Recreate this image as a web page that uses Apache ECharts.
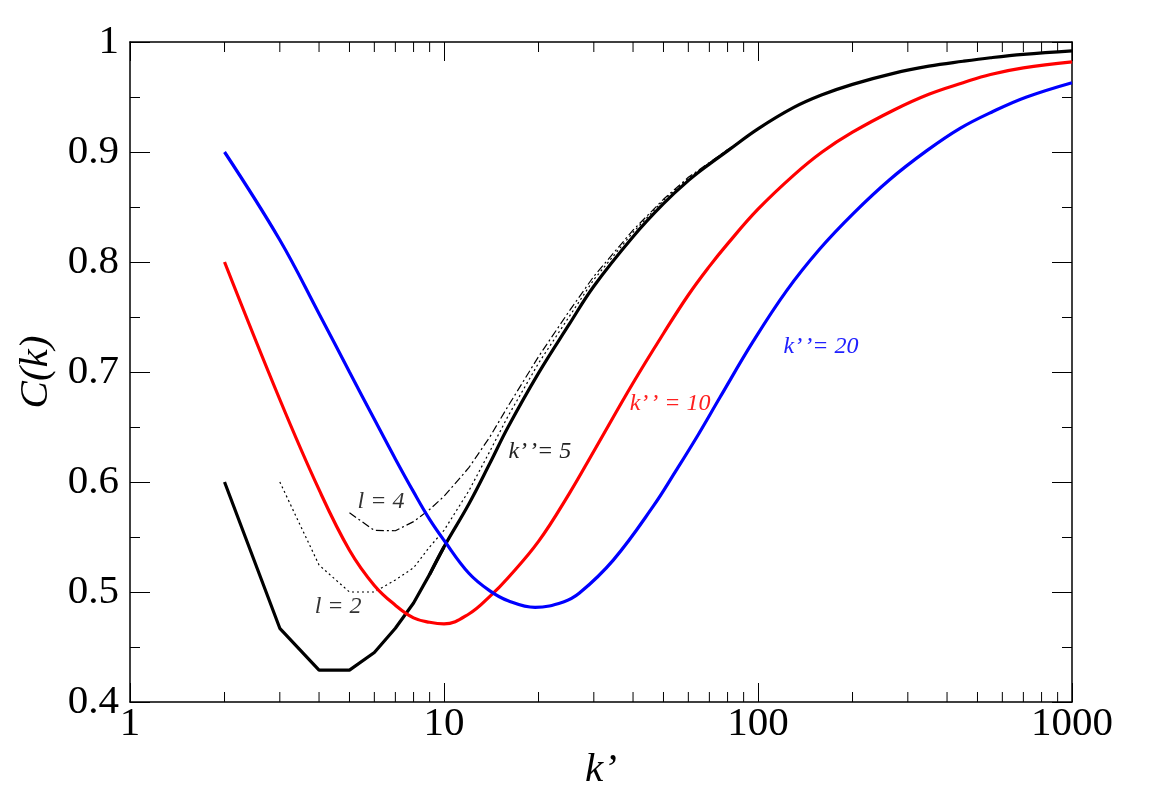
<!DOCTYPE html>
<html>

<head>
  <meta charset="UTF-8">
  <title>C(k) vs k'</title>
  <style>
  html, body {
    margin: 0;
    padding: 0;
    background: #fff;
  }

  #chart {
    width: 1155px;
    height: 809px;
  }
  </style>
  <script src="https://cdn.jsdelivr.net/npm/echarts@6/dist/echarts.min.js"></script>
</head>

<body>
  <div id="chart"></div>
  <script type="text/javascript">
  var kMain = [2, 3, 4, 5, 6, 7, 8, 9, 10, 12, 14, 16, 20, 25, 30, 40, 50, 60, 70, 80, 100, 130, 160, 200, 270, 350, 450, 550, 700, 1000];
  // k'' = 5
  var c5 = [0.600, 0.467, 0.429, 0.429, 0.445, 0.467, 0.490, 0.516, 0.541, 0.580, 0.617, 0.650, 0.699, 0.743, 0.778, 0.823, 0.853, 0.874, 0.889, 0.901, 0.921, 0.9405, 0.952, 0.9615, 0.9715, 0.978, 0.9825, 0.9857, 0.9888, 0.992];
  // k'' = 10
  var c10 = [0.800, 0.675, 0.593, 0.538, 0.506, 0.488, 0.4765, 0.4725, 0.471, 0.480, 0.496, 0.513, 0.546, 0.589, 0.628, 0.690, 0.735, 0.770, 0.796, 0.8165, 0.848, 0.879, 0.900, 0.918, 0.938, 0.9525, 0.963, 0.9705, 0.9765, 0.982];
  // k'' = 20
  var kBlue = [2, 3, 4, 5, 6, 7, 8, 9, 10, 12, 14, 16, 19.5, 24, 27, 34.6, 46.4, 55, 64.5, 75.7, 96.6, 123.4, 157.5, 201, 263, 344, 440, 562, 717, 1000];
  var c20 = [0.900, 0.820, 0.753, 0.700, 0.657, 0.621, 0.591, 0.566, 0.547, 0.517, 0.501, 0.492, 0.486, 0.491, 0.499, 0.529, 0.578, 0.611, 0.643, 0.677, 0.728, 0.774, 0.812, 0.844, 0.875, 0.901, 0.9215, 0.937, 0.950, 0.963];

  // l = 2 (dotted)
  var kL2 = [3, 4, 5, 6, 7, 8, 9, 10, 12, 14, 16, 20, 25, 30, 40, 50, 60, 80, 100];
  var cL2 = [0.600, 0.5245, 0.500, 0.500, 0.511, 0.522, 0.541, 0.556, 0.592, 0.628, 0.660, 0.708, 0.750, 0.784, 0.827, 0.856, 0.876, 0.902, 0.921];
  // l = 4 (dash-dot)
  var kL4 = [5, 6, 7, 8, 9, 10, 12, 14, 16, 20, 25, 30, 40, 50, 60, 80, 100];
  var cL4 = [0.572, 0.556, 0.5557, 0.564, 0.575, 0.587, 0.613, 0.641, 0.669, 0.714, 0.755, 0.787, 0.829, 0.857, 0.877, 0.902, 0.921];

  // log minor ticks on the k' axis
  var minorK = [2, 3, 4, 5, 6, 7, 8, 9, 20, 30, 40, 50, 60, 70, 80, 90, 200, 300, 400, 500, 600, 700, 800, 900];

  var serif = "'Liberation Serif', 'Times New Roman', serif";
  var dq = '\u2019\u200a\u2019';

  function pairs(xs, ys, from, to) {
    var out = [];
    for (var i = 0; i < xs.length; i++) {
      if (from && xs[i] < from) continue;
      if (to && xs[i] > to) continue;
      out.push([xs[i], ys[i]]);
    }
    return out;
  }

  function tag(text, k, c, color) {
    return {
      symbol: 'rect',
      symbolSize: 1,
      silent: true,
      itemStyle: { color: 'rgba(0,0,0,0)' },
      label: {
        show: true,
        position: 'inside',
        formatter: text,
        color: color,
        fontFamily: serif,
        fontStyle: 'italic',
        fontSize: 24
      },
      data: [{ coord: [k, c] }]
    };
  }

  function renderMinor(params, api) {
    var x = api.coord([api.value(0), 0.4])[0];
    var yb = api.coord([1, 0.4])[1];
    var yt = api.coord([1, 1])[1];
    var st = { stroke: '#000', lineWidth: 1 };
    return {
      type: 'group',
      children: [
        { type: 'line', shape: { x1: x, y1: yb, x2: x, y2: yb - 10 }, style: st },
        { type: 'line', shape: { x1: x, y1: yt, x2: x, y2: yt + 10 }, style: st }
      ]
    };
  }

  var myChart = echarts.init(document.getElementById('chart'));

  var axisLineStyle = { color: '#000', width: 1.5 };
  var tickStyle = { color: '#000', width: 1 };

  var option = {
    animation: false,
    backgroundColor: '#fff',
    grid: {
      left: 130,
      right: 83,
      top: 42,
      bottom: 107
    },
    xAxis: [{
      type: 'log',
      logBase: 10,
      min: 1,
      max: 1000,
      position: 'bottom',
      name: 'k\u2019',
      nameLocation: 'middle',
      nameGap: 44,
      nameTextStyle: { fontFamily: serif, fontStyle: 'italic', fontSize: 41, color: '#000' },
      axisLine: { lineStyle: axisLineStyle },
      axisTick: { inside: true, length: 19, lineStyle: tickStyle },
      axisLabel: {
        fontFamily: serif,
        fontSize: 41,
        color: '#000',
        margin: 2,
        formatter: function(v) { return String(Math.round(v)); }
      },
      splitLine: { show: false }
    }, {
      type: 'log',
      logBase: 10,
      min: 1,
      max: 1000,
      position: 'top',
      axisLine: { lineStyle: axisLineStyle },
      axisTick: { inside: true, length: 19, lineStyle: tickStyle },
      axisLabel: { show: false },
      splitLine: { show: false }
    }],
    yAxis: [{
      type: 'value',
      min: 0.4,
      max: 1,
      interval: 0.1,
      position: 'left',
      name: 'C(k)',
      nameLocation: 'middle',
      nameGap: 70,
      nameTextStyle: { fontFamily: serif, fontStyle: 'italic', fontSize: 41, color: '#000' },
      axisLine: { show: true, lineStyle: axisLineStyle },
      axisTick: { show: true, inside: true, length: 20, lineStyle: tickStyle },
      minorTick: { show: true, splitNumber: 2, length: 10, lineStyle: tickStyle },
      axisLabel: { fontFamily: serif, fontSize: 41, color: '#000', margin: 11 },
      splitLine: { show: false }
    }, {
      type: 'value',
      min: 0.4,
      max: 1,
      interval: 0.1,
      position: 'right',
      axisLine: { show: true, lineStyle: axisLineStyle },
      axisTick: { show: true, inside: true, length: 20, lineStyle: tickStyle },
      minorTick: { show: true, splitNumber: 2, length: 10, lineStyle: tickStyle },
      axisLabel: { show: false },
      splitLine: { show: false }
    }],
    series: [{
      name: 'minor',
      type: 'custom',
      silent: true,
      renderItem: renderMinor,
      data: minorK.map(function(k) { return [k, 0.4]; }),
      z: 1
    }, {
      name: 'l = 2',
      type: 'line',
      data: pairs(kL2, cL2),
      showSymbol: false,
      lineStyle: { color: '#000', width: 1.2, type: [2, 3] },
      markPoint: tag('l = 2', 4.6, 0.4864, '#333')
    }, {
      name: 'l = 4',
      type: 'line',
      data: pairs(kL4, cL4),
      showSymbol: false,
      lineStyle: { color: '#000', width: 1.2, type: [8, 3, 2, 3] },
      markPoint: tag('l = 4', 6.3, 0.5818, '#333')
    }, {
      // low k' part is piecewise in the original
      name: "k''=5 low",
      type: 'line',
      data: pairs(kMain, c5, 0, 10),
      showSymbol: false,
      lineStyle: { color: '#000', width: 3.2 }
    }, {
      name: "k''=5",
      type: 'line',
      data: pairs(kMain, c5, 9, 0),
      showSymbol: false,
      smooth: 0.4,
      lineStyle: { color: '#000', width: 3.2 },
      markPoint: tag('k' + dq + '= 5', 20.2, 0.628, '#222')
    }, {
      name: "k''=10",
      type: 'line',
      data: pairs(kMain, c10),
      showSymbol: false,
      smooth: 0.4,
      lineStyle: { color: '#ff0000', width: 3.2 },
      markPoint: tag('k' + dq + ' = 10', 52.5, 0.6709, '#ff2020')
    }, {
      name: "k''=20",
      type: 'line',
      data: pairs(kBlue, c20),
      showSymbol: false,
      smooth: 0.4,
      lineStyle: { color: '#0000ff', width: 3.2 },
      markPoint: tag('k' + dq + '= 20', 158.7, 0.7227, '#2020ff')
    }]
  };

  myChart.setOption(option);
  </script>
</body>

</html>
